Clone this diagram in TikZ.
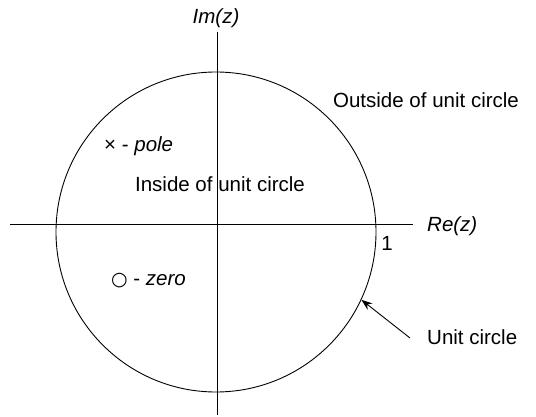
\documentclass[tikz,border=0pt]{standalone}
\usepackage{fontspec}
\setmainfont{Liberation Sans}
\newfontfamily\dejavu{DejaVu Sans}
\usetikzlibrary{arrows.meta}
\tikzset{
  lbl/.style={inner sep=0pt, font=\fontsize{20.5}{24}\selectfont},
  ilbl/.style={lbl, font=\fontsize{20.5}{24}\selectfont\itshape},
  axisline/.style={line width=0.9pt, black},
  arr/.style={line width=0.9pt, -{Stealth[length=11pt,width=8pt]}}
}
\begin{document}
\begin{tikzpicture}[x=1pt,y=-1pt]
\useasboundingbox (0,0) rectangle (536,417);
% unit circle
\node[draw, circle, line width=0.9pt, minimum size=320pt, inner sep=0pt] (uc) at (216,232) {};
% axes
\coordinate (xl) at (10,224);
\coordinate (xr) at (413,224);
\coordinate (yt) at (217,32);
\coordinate (yb) at (217,415);
\draw[axisline] (xl) -- (xr);
\draw[axisline] (yt) -- (yb);
% labels
\node[ilbl] (im) at (216,18) {Im(z)};
\node[ilbl, anchor=west] (re) at (427,226) {Re(z)};
\node[lbl] (one) at (387,243) {1};
\node[lbl] (outside) at (426,100) {Outside of unit circle};
\node[lbl] (inside) at (220,184) {Inside of unit circle};
\node[lbl, anchor=west] (pole) at (104,146) {×\ -\ \textit{pole}};
\node[lbl, anchor=west] (zero) at (111,281) {{\dejavu\fontsize{19}{22}\selectfont ○}\ -\ \textit{zero}};
\node[lbl, anchor=west] (unit) at (427,337) {Unit circle};
\coordinate (tail) at (410,338);
\draw[arr] (tail) -- (uc.-25.5);
\end{tikzpicture}
\end{document}
